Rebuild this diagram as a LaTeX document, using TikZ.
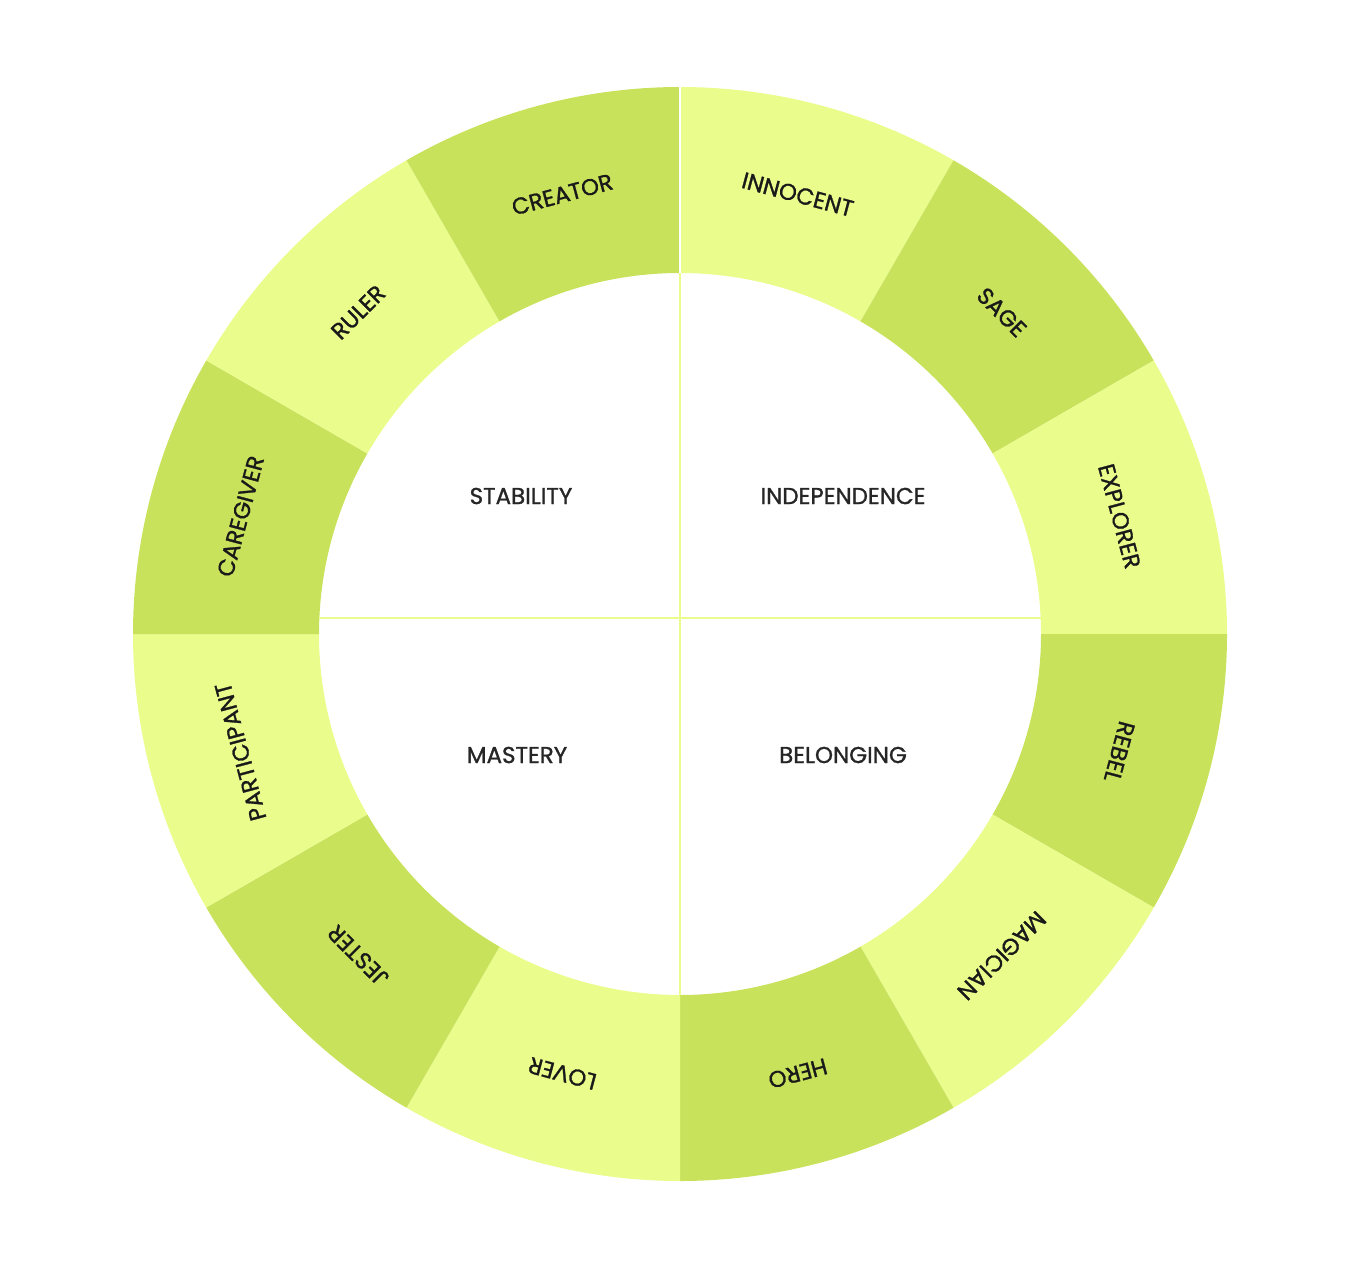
\documentclass[tikz,border=0pt]{standalone}
\usepackage{fontspec}
\setmainfont{Poppins}[FakeBold=1.2]
\usetikzlibrary{calc}
\begin{document}
\begin{tikzpicture}[x=1pt,y=-1pt,
  seglabel/.style={font=\fontsize{23}{23}\selectfont, text=black!90},
  quad/.style={font=\fontsize{23}{23}\selectfont, text=black!85}]
\definecolor{lg}{HTML}{E9FC8C}
\definecolor{dg}{HTML}{C8E25C}
\useasboundingbox (0,0) rectangle (1364,1280);
\coordinate (c) at (680,634);
\def\R{547}\def\r{361}
\foreach \a/\t/\s [count=\i] in {60/INNOCENT/lg,30/SAGE/dg,0/EXPLORER/lg,-30/REBEL/dg,-60/MAGICIAN/lg,-90/HERO/dg,-120/LOVER/lg,-150/JESTER/dg,-180/PARTICIPANT/lg,-210/CAREGIVER/dg,-240/RULER/lg,-270/CREATOR/dg}{
  \pgfmathsetmacro\b{\a+30}
  \pgfmathsetmacro\m{\a+15}
  \fill[\s] ($(c)+(-\a:\R)$) arc[start angle=-\a,end angle=-\b,radius=\R]
     -- ($(c)+(-\b:\r)$) arc[start angle=-\b,end angle=-\a,radius=\r] -- cycle;
  \node[seglabel,rotate=\m-90] (s\i) at ($(c)+(-\m:455)$) {\t};
}
\draw[white,line width=1.5pt] ($(c)+(0,-\R)$) -- ($(c)+(0,-\r)$);
\draw[lg,line width=1.5pt] ($(c)+(0,-\r)$) -- ($(c)+(0,\r)$);
\draw[lg,line width=1.5pt] ($(c)+(-\r,-16)$) -- ($(c)+(\r,-16)$);
\node[quad] (q1) at (521,496) {STABILITY};
\node[quad] (q2) at (843,496) {INDEPENDENCE};
\node[quad] (q3) at (517,755) {MASTERY};
\node[quad] (q4) at (843,755) {BELONGING};
\end{tikzpicture}
\end{document}
